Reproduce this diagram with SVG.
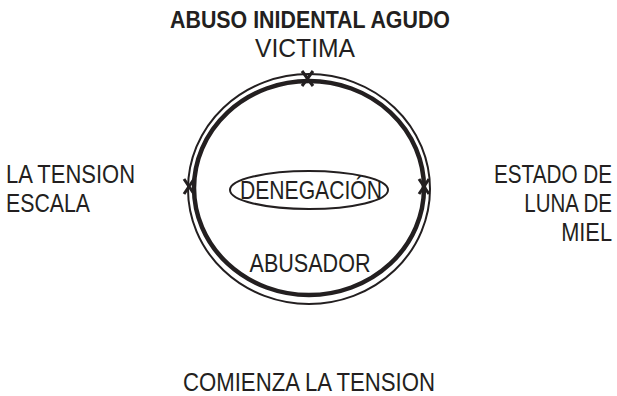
<svg xmlns="http://www.w3.org/2000/svg" width="617" height="396" viewBox="0 0 617 396">
<style>
text{font-family:"Liberation Sans Narrow","Liberation Sans",Arial,sans-serif;font-size:25px;fill:#231f20}
.b{font-weight:bold;font-size:24px}
.m{text-anchor:middle}
.e{text-anchor:end}
.thin{fill:none;stroke:#231f20;stroke-width:2}
.thick{fill:none;stroke:#231f20;stroke-width:4.5}
.x{fill:none;stroke:#231f20;stroke-width:3}
</style>
<rect width="617" height="396" fill="#fff"/>
<g id="cycle">
<ellipse class="thin" cx="309" cy="189" rx="121" ry="115"/>
<ellipse class="thick" cx="309" cy="188" rx="115" ry="107"/>
</g>
<g id="connectors">
<path class="x" d="M302 71 L313 86 M313 71 L302 86"/>
<path class="x" d="M184 179 L194 194 M194 179 L184 194"/>
<path class="x" d="M419 179 L429 194 M429 179 L419 194"/>
</g>
<g id="top">
<text class="b m" x="310" y="28" textLength="280" lengthAdjust="spacingAndGlyphs">ABUSO INIDENTAL AGUDO</text>
<text class="m" x="305" y="57" textLength="100" lengthAdjust="spacingAndGlyphs">VICTIMA</text>
</g>
<g id="left">
<text x="6" y="183" textLength="129" lengthAdjust="spacingAndGlyphs">LA TENSION</text>
<text x="6" y="212" textLength="84" lengthAdjust="spacingAndGlyphs">ESCALA</text>
</g>
<g id="right" transform="translate(612,0) scale(0.82,1)">
<text class="e" x="0" y="183" textLength="144" lengthAdjust="spacingAndGlyphs">ESTADO DE</text>
<text class="e" x="0" y="212" textLength="107" lengthAdjust="spacingAndGlyphs">LUNA DE</text>
<text class="e" x="0" y="241" textLength="62" lengthAdjust="spacingAndGlyphs">MIEL</text>
</g>
<g id="denegacion">
<ellipse class="thin" cx="309" cy="190" rx="79" ry="19"/>
<text class="m" x="311" y="199" textLength="142" lengthAdjust="spacingAndGlyphs">DENEGACIÓN</text>
</g>
<g id="abusador">
<text class="m" x="310" y="272" textLength="121" lengthAdjust="spacingAndGlyphs">ABUSADOR</text>
</g>
<g id="bottom">
<text class="m" x="309" y="391" textLength="252" lengthAdjust="spacingAndGlyphs">COMIENZA LA TENSION</text>
</g>
</svg>
